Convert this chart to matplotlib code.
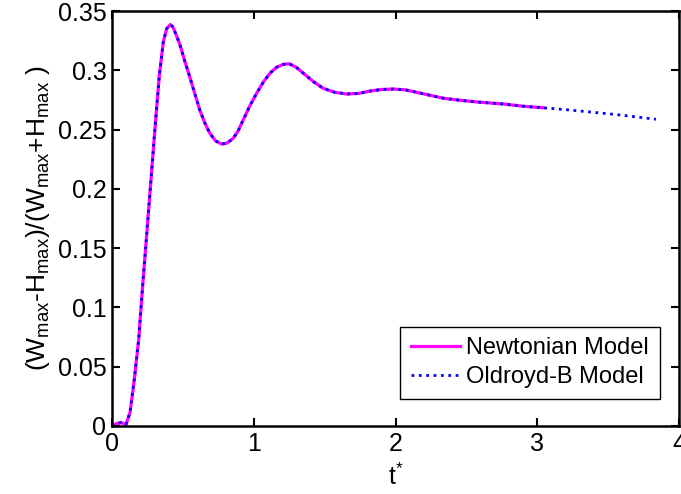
import matplotlib.pyplot as plt
from matplotlib.ticker import FormatStrFormatter

plt.rcParams['font.family'] = ['Liberation Sans', 'DejaVu Sans']
plt.rcParams['mathtext.fontset'] = 'custom'
plt.rcParams['mathtext.rm'] = 'Liberation Sans'
plt.rcParams['mathtext.it'] = 'Liberation Sans'

# values
t_newt = [0.0, 0.03, 0.063, 0.099, 0.127, 0.157, 0.188, 0.216, 0.244, 0.275, 0.303,
          0.334, 0.362, 0.385, 0.411, 0.43, 0.452, 0.478, 0.51,
          0.548, 0.585, 0.619, 0.655, 0.69, 0.73, 0.772, 0.81, 0.855, 0.89, 0.925,
          0.97, 1.02, 1.07, 1.114, 1.16, 1.208, 1.25, 1.30, 1.35, 1.42, 1.49,
          1.57, 1.656, 1.74, 1.82, 1.90, 1.985, 2.07, 2.15, 2.24, 2.34, 2.45,
          2.573, 2.67, 2.76, 2.90, 3.04]
v_newt = [0.0, 0.002, 0.0028, 0.0014, 0.0113, 0.039, 0.073, 0.118, 0.1606, 0.208, 0.251,
          0.296, 0.324, 0.335, 0.3386, 0.3365, 0.330, 0.322, 0.309,
          0.2946, 0.280, 0.2665, 0.2555, 0.2469, 0.2405, 0.2378, 0.2385, 0.2426, 0.249, 0.258,
          0.2695, 0.2806, 0.2905, 0.2975, 0.3025, 0.3050, 0.3055, 0.3025, 0.2975, 0.2905, 0.2848,
          0.2815, 0.2800, 0.2805, 0.2825, 0.2838, 0.2842, 0.2835, 0.2814, 0.2790, 0.2764, 0.2748,
          0.2733, 0.2724, 0.2716, 0.2697, 0.2684]

t_oldb = t_newt + [3.20, 3.35, 3.47, 3.585, 3.71, 3.837]
v_oldb = v_newt + [0.2668, 0.2651, 0.2637, 0.2623, 0.2605, 0.2587]

fig = plt.figure(figsize=(6.81, 4.94), dpi=100)
ax = fig.add_axes([0.1645, 0.1377, 0.8326, 0.840])

ax.plot(t_newt, v_newt, color='#ff00ff', linestyle='-', linewidth=2.3, label='Newtonian Model')
ax.plot(t_oldb, v_oldb, color='#0000ff', linestyle=':', linewidth=2.0, label='Oldroyd-B Model')

ax.set_xlim(0, 4)
ax.set_ylim(0, 0.35)
ax.set_xticks([0, 1, 2, 3, 4])
ax.set_yticks([0, 0.05, 0.1, 0.15, 0.2, 0.25, 0.3, 0.35])
ax.yaxis.set_major_formatter(FormatStrFormatter('%g'))
ax.tick_params(direction='in', top=True, right=True, length=6, width=1.5,
               labelsize=18, pad=4)
for s in ax.spines.values():
    s.set_linewidth(1.8)

ax.set_xlabel(r't$^{*}$', fontsize=18, labelpad=6)
ax.set_ylabel(r'(W$_{\mathregular{max}}$-H$_{\mathregular{max}}$)/(W$_{\mathregular{max}}$+H$_{\mathregular{max}}$ )',
              fontsize=19, labelpad=4)

leg = ax.legend(loc='lower right', bbox_to_anchor=(0.966, 0.065), fontsize=17,
                frameon=True, fancybox=False, framealpha=1, edgecolor='black',
                handlelength=2.1, handletextpad=0.25, borderpad=0.45, labelspacing=0.3,
                borderaxespad=0)
leg.get_frame().set_linewidth(1.0)

fig.savefig('out.png', dpi=100)
